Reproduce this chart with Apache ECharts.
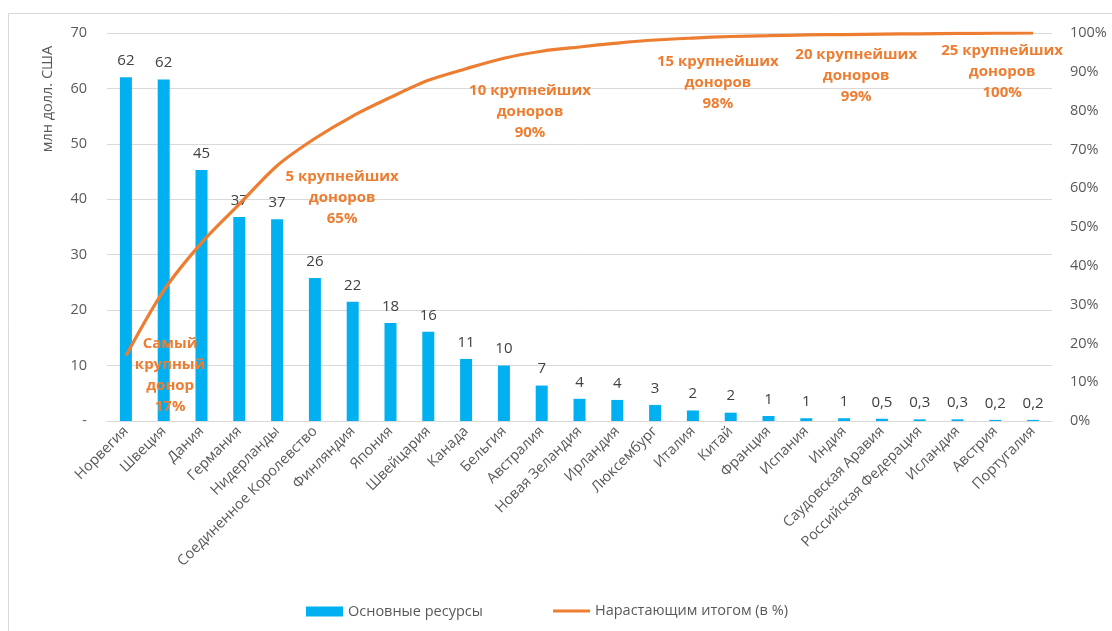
<!DOCTYPE html>
<html><head><meta charset="utf-8">
<script src="https://cdn.jsdelivr.net/npm/echarts@6/dist/echarts.min.js"></script>
<style>html,body{margin:0;padding:0;background:#fff}#c{width:1112px;height:631px}</style>
</head><body><div id="c"></div>
<script>
const countries = ['Норвегия','Швеция','Дания','Германия','Нидерланды','Соединенное Королевство','Финляндия','Япония','Швейцария','Канада','Бельгия','Австралия','Новая Зеландия','Ирландия','Люксембург','Италия','Китай','Франция','Испания','Индия','Саудовская Аравия','Российская Федерация','Исландия','Австрия','Португалия'];
const coreResources = [62,61.6,45.3,36.8,36.4,25.8,21.5,17.7,16.1,11.2,10.0,6.4,4.0,3.8,2.9,1.9,1.5,0.9,0.5,0.5,0.4,0.3,0.3,0.2,0.2];
const barLabels = ['62','62','45','37','37','26','22','18','16','11','10','7','4','4','3','2','2','1','1','1','0,5','0,3','0,3','0,2','0,2'];
const cumulativePct = [16.8,33.6,45.9,55.9,65.8,72.8,78.6,83.4,87.8,90.8,93.5,95.3,96.4,97.4,98.2,98.7,99.1,99.3,99.5,99.6,99.7,99.8,99.9,99.95,100];
const leftTicks = ['-','10','20','30','40','50','60','70'];
const annotations = [
  {text:'Самый\nкрупный\nдонор\n17%', idx:1.17, y:375},
  {text:'5 крупнейших\nдоноров\n65%', idx:5.72, y:198},
  {text:'10 крупнейших\nдоноров\n90%', idx:10.69, y:112},
  {text:'15 крупнейших\nдоноров\n98%', idx:15.66, y:83},
  {text:'20 крупнейших\nдоноров\n99%', idx:19.32, y:76},
  {text:'25 крупнейших\nдоноров\n100%', idx:23.18, y:72}
];
const FONT = '"Open Sans", "Noto Sans", sans-serif';
const chart = echarts.init(document.getElementById('c'), null, {renderer:'canvas'});
const gridL = 107, gridR = 60;
const plotW = 1112 - gridL - gridR;
const band = plotW / countries.length;
const legendText = {fontFamily:FONT,fontSize:14.5,color:'#595959'};
const option = {
  animation:false,
  textStyle:{fontFamily:FONT},
  grid:{left:gridL,right:gridR,top:33,bottom:210},
  legend:[
    {left:306, top:604, padding:0, itemWidth:37, itemHeight:10, itemGap:5,
     textStyle:legendText, data:[{name:'Основные ресурсы',icon:'rect'}]},
    {left:553, top:603.5, padding:0, itemWidth:37, itemHeight:3, itemGap:5,
     textStyle:legendText, data:[{name:'Нарастающим итогом (в %)',icon:'rect'}]}
  ],
  xAxis:{
    type:'category', data:countries,
    axisLine:{lineStyle:{color:'#D9D9D9'}},
    axisTick:{show:false},
    axisLabel:{interval:0, rotate:45, color:'#595959', fontSize:14.5, fontFamily:FONT, margin:8}
  },
  yAxis:[
    {type:'value', min:0, max:70, interval:10,
     axisLabel:{color:'#595959', fontSize:14.5, fontFamily:FONT, margin:20,
       formatter:(v)=>leftTicks[Math.round(v/10)]},
     splitLine:{lineStyle:{color:'#D9D9D9'}}, axisLine:{show:false}, axisTick:{show:false}},
    {type:'value', min:0, max:100, interval:10,
     axisLabel:{color:'#595959', fontSize:14.5, fontFamily:FONT, margin:18, formatter:'{value}%'},
     splitLine:{show:false}, axisLine:{show:false}, axisTick:{show:false}}
  ],
  series:[
    {name:'Основные ресурсы', type:'bar', data:coreResources, barWidth:12,
     itemStyle:{color:'#00B0F0'},
     label:{show:true, position:'top', distance:9, color:'#404040', fontSize:15, fontFamily:FONT,
       formatter:(p)=>barLabels[p.dataIndex]}},
    {name:'Нарастающим итогом (в %)', type:'line', yAxisIndex:1, data:cumulativePct,
     smooth:0.3, symbol:'none', lineStyle:{color:'#ED7D31', width:3.2}, itemStyle:{color:'#ED7D31'}, z:5}
  ],
  graphic:[
    {type:'rect', shape:{x:8.5,y:13.5,width:1120,height:640}, style:{fill:'none',stroke:'#D9D9D9',lineWidth:1}, silent:true},
    {type:'text', x:48, y:99, rotation:Math.PI/2, style:{text:'млн долл. США', fill:'#595959', font:'14.5px '+FONT, textAlign:'center', textVerticalAlign:'middle'}}
  ].concat(annotations.map(a=>({
    type:'text', x:gridL + band*(a.idx+0.5), y:a.y, z:10,
    style:{text:a.text, fill:'#ED7D31', font:'bold 15px '+FONT, textAlign:'center', textVerticalAlign:'middle', lineHeight:21}
  })))
};
chart.setOption(option);
</script></body></html>
